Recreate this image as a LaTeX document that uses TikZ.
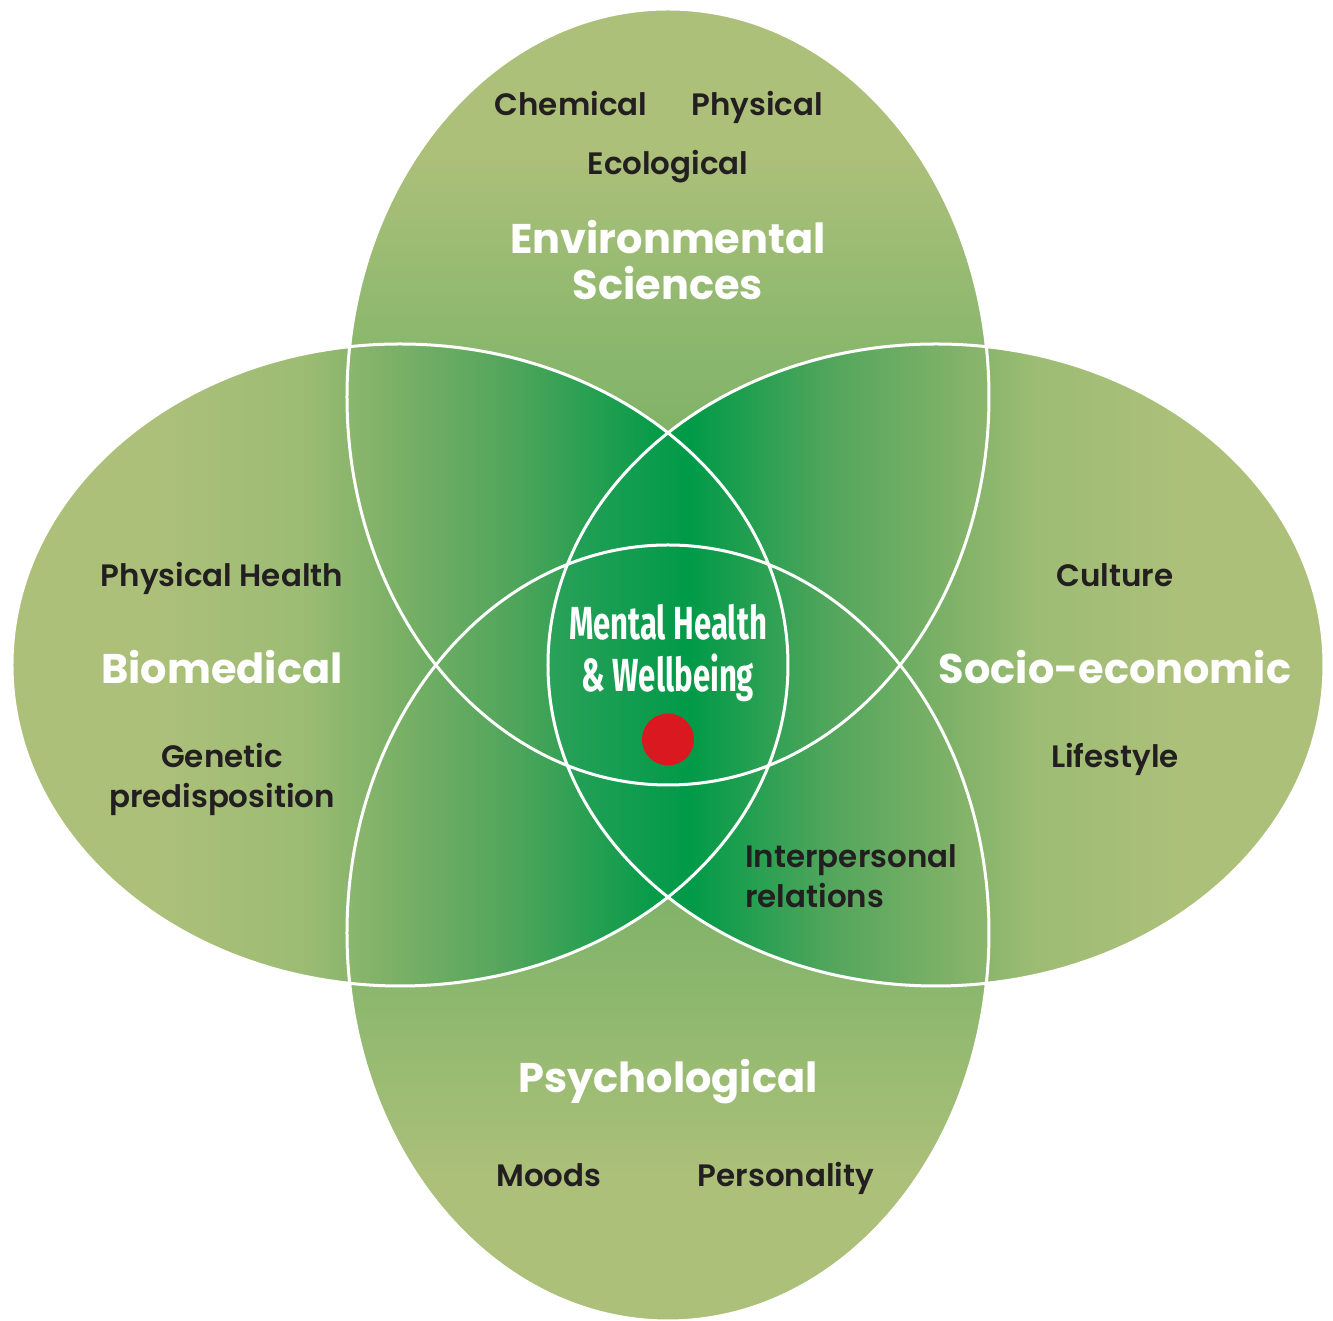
\documentclass[tikz,border=0pt]{standalone}
\usepackage{fontspec}
\setmainfont{Poppins}
\newfontfamily\itemfont{Poppins SemiBold}
\newfontfamily\corefont{Fira Sans}[FakeStretch=0.67]
\definecolor{pale}{HTML}{ADC07A}
\definecolor{sage}{HTML}{9DBC74}
\definecolor{moss}{HTML}{8AB76D}
\definecolor{fern}{HTML}{80B268}
\definecolor{leaf}{HTML}{55A65D}
\definecolor{deep}{HTML}{009A48}
\definecolor{core}{HTML}{2BA15A}
\definecolor{ink}{HTML}{231F20}
\definecolor{dot}{HTML}{D9191F}
% lobe fills: pale at the outer end, deep green towards the middle
\pgfdeclareverticalshading{vlobe}{100bp}{color(0bp)=(deep); color(40bp)=(leaf); color(47bp)=(fern); color(53bp)=(moss); color(66bp)=(pale); color(100bp)=(pale)}
\pgfdeclarehorizontalshading{llobe}{100bp}{color(0bp)=(pale); color(33.9bp)=(pale); color(43.6bp)=(sage); color(48.7bp)=(fern); color(56.5bp)=(leaf); color(67.3bp)=(deep); color(100bp)=(deep)}
\pgfdeclarehorizontalshading{rlobe}{100bp}{color(0bp)=(core); color(25bp)=(core); color(34.1bp)=(deep); color(43.5bp)=(leaf); color(51.3bp)=(fern); color(56.4bp)=(sage); color(66.1bp)=(pale); color(100bp)=(pale)}
\tikzset{rim/.style={draw=white,line width=0.06cm},item/.style={font=\itemfont\fontsize{17.6}{22.8}\selectfont,text=ink,anchor=base,inner sep=0pt,align=center},head/.style={font=\bfseries\fontsize{23.6}{26.7}\selectfont,text=white,anchor=base,inner sep=0pt,align=center},centre/.style={font=\corefont\bfseries\fontsize{26.4}{29.6}\selectfont,text=white,anchor=base,inner sep=0pt,align=center}}

\begin{document}
\begin{tikzpicture}
\useasboundingbox (-13.36,-13.12) rectangle (13.30,13.30);
% the four lobes
\shade[shading=vlobe] (0,5.36) ellipse [x radius=6.42,y radius=7.76];
\shade[shading=vlobe,shading angle=180] (0,-5.36) ellipse [x radius=6.42,y radius=7.76];
\shade[shading=llobe] (-5.36,0) ellipse [x radius=7.76,y radius=6.42];
\shade[shading=rlobe] (5.36,0) ellipse [x radius=7.76,y radius=6.42];
\draw[rim] (0,5.36) ellipse [x radius=6.42,y radius=7.76] (0,-5.36) ellipse [x radius=6.42,y radius=7.76] (-5.36,0) ellipse [x radius=7.76,y radius=6.42] (5.36,0) ellipse [x radius=7.76,y radius=6.42];
% environmental
\node[item] (chem) at (-1.94,10.98) {Chemical};
\node[item] (phys) at (1.78,10.98) {Physical};
\node[item] (eco) at (0,9.80) {Ecological};
\node[head] (env) at (0,7.30) {Environmental\\Sciences};
% biomedical
\node[item] (health) at (-8.92,1.56) {Physical Health};
\node[head] (bio) at (-8.92,-0.38) {Biomedical};
\node[item] (gene) at (-8.92,-2.86) {Genetic\\predisposition};
% socio-economic
\node[item] (cult) at (8.94,1.56) {Culture};
\node[head] (socio) at (8.94,-0.38) {Socio-economic};
\node[item] (life) at (8.94,-2.06) {Lifestyle};
\node[item,anchor=base west,align=left] (inter) at (1.54,-4.86) {Interpersonal\\relations};
% psychological
\node[head] (psy) at (0,-8.56) {Psychological};
\node[item] (mood) at (-2.38,-10.44) {Moods};
\node[item] (pers) at (2.36,-10.44) {Personality};
% centre
\node[centre] (mhw) at (0,-0.54) {Mental Health\\\& Wellbeing};
\fill[dot] (0,-1.49) circle [radius=0.52];
\end{tikzpicture}
\end{document}
